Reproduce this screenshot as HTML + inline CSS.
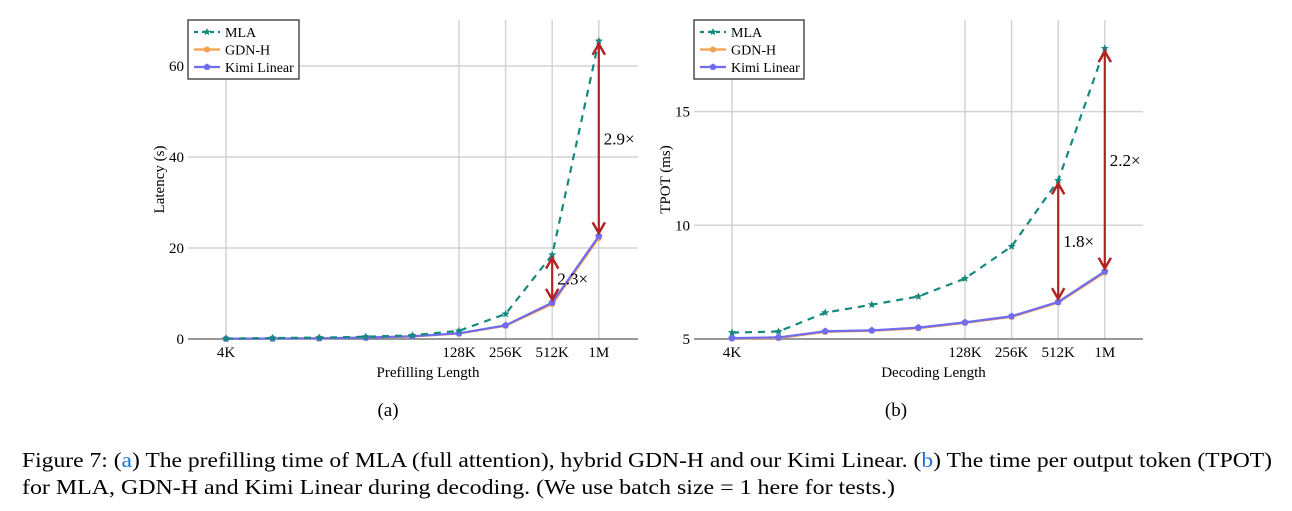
<!DOCTYPE html>
<html><head><meta charset="utf-8"><style>
html,body{margin:0;padding:0;background:#fff;}
svg{display:block;font-family:"Liberation Serif",serif;}
</style></head><body>
<svg id="fig" width="1292" height="511" viewBox="0 0 1292 511" xmlns="http://www.w3.org/2000/svg">
<defs>
<marker id="ah" viewBox="0 0 10 10" refX="8" refY="5" markerWidth="7" markerHeight="7" orient="auto-start-reverse">
<path d="M1,1 L8,5 L1,9" fill="none" stroke="#b22222" stroke-width="1.6"/>
</marker>
</defs>
<g id="chartA"></g>
<g id="chartB"></g>
<text x="388" y="416" font-size="19" text-anchor="middle">(a)</text>
<text x="896" y="416" font-size="19" text-anchor="middle">(b)</text>
<text x="22" y="467" font-size="21" textLength="1250" lengthAdjust="spacingAndGlyphs">Figure 7: (<tspan fill="#1e6fd9">a</tspan>) The prefilling time of MLA (full attention), hybrid GDN-H and our Kimi Linear. (<tspan fill="#1e6fd9">b</tspan>) The time per output token (TPOT)</text>
<text x="22" y="494" font-size="21" textLength="873" lengthAdjust="spacingAndGlyphs">for MLA, GDN-H and Kimi Linear during decoding. (We use batch size = 1 here for tests.)</text>
</svg>
<script>
const xCats = ["4K","8K","16K","32K","64K","128K","256K","512K","1M"];
const xTickLabels = ["4K","","","","","128K","256K","512K","1M"];
const aMLA = [0.1,0.2,0.3,0.5,0.8,1.8,5.5,18.5,65.5];
const aGDN = [0.05,0.1,0.15,0.3,0.55,1.2,2.9,7.7,22.2];
const aKimi = [0.05,0.1,0.15,0.3,0.6,1.25,3.0,8.0,22.6];
const aTicks = [0,20,40,60];
const bMLA = [5.28,5.33,6.16,6.51,6.87,7.66,9.07,11.97,17.78];
const bGDN = [5.02,5.04,5.31,5.36,5.47,5.71,5.97,6.6,7.92];
const bKimi = [5.04,5.07,5.34,5.38,5.5,5.73,6.0,6.63,7.97];
const bTicks = [5,10,15];
const aArrows = [{i:7,label:"2.3×"},{i:8,label:"2.9×"}];
const bArrows = [{i:7,label:"1.8×"},{i:8,label:"2.2×"}];

const NS="http://www.w3.org/2000/svg";
function mk(parent,tag,attrs,txt){const e=document.createElementNS(NS,tag);for(const k in attrs)e.setAttribute(k,attrs[k]);if(txt!==undefined)e.textContent=txt;parent.appendChild(e);return e;}
function star(cx,cy,r){let d="";for(let k=0;k<10;k++){const rr=k%2?r*0.45:r;const a=-Math.PI/2+k*Math.PI/5;d+=(k?"L":"M")+(cx+rr*Math.cos(a)).toFixed(1)+","+(cy+rr*Math.sin(a)).toFixed(1);}return d+"Z";}
function pent(cx,cy,r){let d="";for(let k=0;k<5;k++){const a=-Math.PI/2+k*2*Math.PI/5;d+=(k?"L":"M")+(cx+r*Math.cos(a)).toFixed(1)+","+(cy+r*Math.sin(a)).toFixed(1);}return d+"Z";}

function draw(cfg){
  const g=document.getElementById(cfg.id);
  const x=i=>cfg.x0+i*cfg.step;
  const y=v=>cfg.yBase-(v-cfg.yMin)*cfg.ppu;
  for(let i=0;i<xCats.length;i++){ if(!xTickLabels[i])continue;
    const l=mk(g,"line",{x1:x(i),x2:x(i),y1:cfg.top,y2:cfg.yBase,stroke:"#d4d4d4","stroke-width":1.5});
    
    
  }
  cfg.ticks.forEach(t=>{
    const l=mk(g,"line",{x1:cfg.left,x2:cfg.right,y1:y(t),y2:y(t),stroke:t===cfg.yMin?"#777":"#d4d4d4","stroke-width":1.5});
    
    
    const tx=mk(g,"text",{x:cfg.left-4,y:y(t)+5,"font-size":15,"text-anchor":"end"},String(t));
    
    
  });
  xTickLabels.forEach((lab,i)=>{ if(!lab)return;
    const tx=mk(g,"text",{x:x(i),y:cfg.yBase+18,"font-size":15,"text-anchor":"middle"},lab);
    
    
  });
  const xt=mk(g,"text",{x:(cfg.left+cfg.right)/2+15,y:cfg.yBase+38,"font-size":15,"text-anchor":"middle"},cfg.xTitle);
  
  
  const yt=mk(g,"text",{x:0,y:0,"font-size":15,"text-anchor":"middle",transform:`translate(${cfg.left-24},${(cfg.top+cfg.yBase)/2}) rotate(-90)`},cfg.yTitle);
  
  
  const ser=[
    {d:cfg.gdn,c:"#f5a04a",dash:"",m:"c",n:"gdn-h"},
    {d:cfg.kimi,c:"#6f6cf0",dash:"",m:"p",n:"kimi-linear"},
    {d:cfg.mla,c:"#15897e",dash:"7,6",m:"s",n:"mla"}];
  ser.forEach(s=>{
    const pts=s.d.map((v,i)=>x(i)+","+y(v)).join(" ");
    const pl=mk(g,"polyline",{points:pts,fill:"none",stroke:s.c,"stroke-width":2.2,"stroke-dasharray":s.dash});
    
    
    s.d.forEach((v,i)=>{
      let m;
      if(s.m==="c")m=mk(g,"circle",{cx:x(i),cy:y(v),r:3,fill:s.c});
      else if(s.m==="p")m=mk(g,"path",{d:pent(x(i),y(v),3.8),fill:s.c});
      else m=mk(g,"path",{d:star(x(i),y(v),4.2),fill:s.c});
      
      
    });
  });
  cfg.arrows.forEach(a=>{
    const ar=mk(g,"line",{x1:x(a.i),x2:x(a.i),y1:y(cfg.mla[a.i])+3,y2:y(cfg.kimi[a.i])-3,stroke:"#b22222","stroke-width":2.2,"marker-start":"url(#ah)","marker-end":"url(#ah)"});
    
    
    const ym=(y(cfg.mla[a.i])+y(cfg.kimi[a.i]))/2;
    const lt=mk(g,"text",{x:x(a.i)+5,y:ym+6,"font-size":17},a.label);
    
    
  });
  const lg=mk(g,"g",{});
  
  
  mk(lg,"rect",{x:cfg.left,y:cfg.top,width:cfg.legW,height:59,fill:"#fff",stroke:"#333","stroke-width":1.3});
  [["MLA","#15897e","4,4","s"],["GDN-H","#f5a04a","","c"],["Kimi Linear","#6f6cf0","","p"]].forEach((e,k)=>{
    const ey=cfg.top+12+k*17.5;
    const le=mk(lg,"g",{});
    
    
    mk(le,"line",{x1:cfg.left+6,x2:cfg.left+32,y1:ey,y2:ey,stroke:e[1],"stroke-width":2.2,"stroke-dasharray":e[2]});
    if(e[3]==="s")mk(le,"path",{d:star(cfg.left+19,ey,4),fill:e[1]});
    else if(e[3]==="c")mk(le,"circle",{cx:cfg.left+19,cy:ey,r:3,fill:e[1]});
    else mk(le,"path",{d:pent(cfg.left+19,ey,3.6),fill:e[1]});
    mk(le,"text",{x:cfg.left+37,y:ey+5,"font-size":14},e[0]);
  });
}
draw({id:"chartA",x0:226,step:46.6,left:188,right:638,top:20,yBase:339,yMin:0,ppu:91/20,ticks:aTicks,mla:aMLA,gdn:aGDN,kimi:aKimi,arrows:aArrows,xTitle:"Prefilling Length",yTitle:"Latency (s)",legW:111});
draw({id:"chartB",x0:732,step:46.6,left:694,right:1143,top:20,yBase:339,yMin:5,ppu:113.7/5,ticks:bTicks,mla:bMLA,gdn:bGDN,kimi:bKimi,arrows:bArrows,xTitle:"Decoding Length",yTitle:"TPOT (ms)",legW:110});
</script>
</body></html>
